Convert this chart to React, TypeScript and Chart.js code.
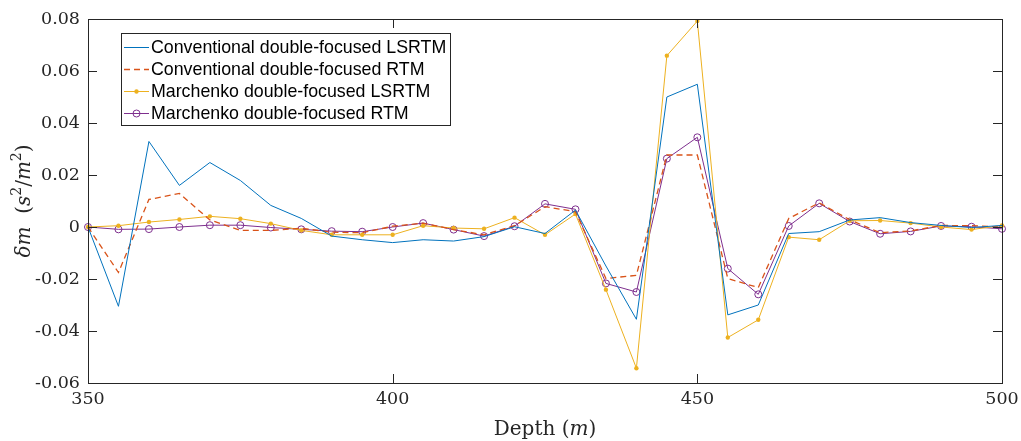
import React, { useEffect, useRef } from "react";
import { Chart, registerables } from "chart.js";

Chart.register(...registerables);

const depth = [350, 355, 360, 365, 370, 375, 380, 385, 390, 395, 400, 405, 410, 415, 420, 425, 430, 435, 440, 445, 450, 455, 460, 465, 470, 475, 480, 485, 490, 495, 500];

const convLSRTM = [0, -0.0305, 0.0329, 0.016, 0.0248, 0.0179, 0.0083, 0.0033, -0.0035, -0.0049, -0.006, -0.0049, -0.0054, -0.0037, 0.0001, -0.0025, 0.0065, -0.015, -0.0355, 0.05, 0.0549, -0.0338, -0.03, -0.0025, -0.0018, 0.0027, 0.0036, 0.0017, 0.0006, -0.0002, 0.0006];

const convRTM = [0, -0.0175, 0.0106, 0.0129, 0.0027, -0.0013, -0.0013, -0.0005, -0.002, -0.0022, 0.0003, 0.0015, -0.001, -0.003, 0.0005, 0.0078, 0.0059, -0.0198, -0.0186, 0.0277, 0.0277, -0.0198, -0.0233, 0.0033, 0.0093, 0.0028, -0.0022, -0.0015, 0.0006, 0.0005, 0];

const marLSRTM = [0, 0.0005, 0.0019, 0.0029, 0.0041, 0.0032, 0.0013, -0.0013, -0.003, -0.003, -0.003, 0.0005, -0.0004, -0.0007, 0.0036, -0.003, 0.005, -0.0241, -0.0543, 0.0659, 0.0792, -0.0425, -0.0357, -0.0039, -0.0049, 0.0024, 0.0025, 0.0015, 0, -0.001, 0.0006];

const marRTM = [0, -0.0009, -0.0008, 0, 0.0007, 0.0007, -0.0002, -0.0009, -0.0016, -0.0018, 0, 0.0015, -0.001, -0.0035, 0.0003, 0.0089, 0.0068, -0.0217, -0.025, 0.0263, 0.0345, -0.016, -0.0259, 0.0004, 0.0091, 0.0021, -0.0026, -0.0017, 0.0004, 0.0001, -0.0007];

const seriesLabels = [
  "Conventional double-focused LSRTM",
  "Conventional double-focused RTM",
  "Marchenko double-focused LSRTM",
  "Marchenko double-focused RTM",
];

const xTicks = [350, 400, 450, 500];
const yTicks = [-0.06, -0.04, -0.02, 0, 0.02, 0.04, 0.06, 0.08];

const colors = ["#0072BD", "#D95319", "#EDB120", "#7E2F8E"];

const serif = '"DejaVu Serif", serif';

const boxPlugin = {
  id: "matlabBox",
  afterDraw(chart: any) {
    const { ctx, chartArea: a, scales } = chart;
    const xs = scales.x;
    const ys = scales.y;
    ctx.save();
    ctx.strokeStyle = "#262626";
    ctx.lineWidth = 1;
    ctx.strokeRect(Math.round(a.left) + 0.5, Math.round(a.top) + 0.5, Math.round(a.right - a.left), Math.round(a.bottom - a.top));
    const tl = 9;
    ctx.beginPath();
    xTicks.forEach((v) => {
      const px = Math.round(xs.getPixelForValue(v)) + 0.5;
      ctx.moveTo(px, a.bottom);
      ctx.lineTo(px, a.bottom - tl);
      ctx.moveTo(px, a.top);
      ctx.lineTo(px, a.top + tl);
    });
    yTicks.forEach((v) => {
      const py = Math.round(ys.getPixelForValue(v)) + 0.5;
      ctx.moveTo(a.left, py);
      ctx.lineTo(a.left + tl, py);
      ctx.moveTo(a.right, py);
      ctx.lineTo(a.right - tl, py);
    });
    ctx.stroke();

    // axis titles
    ctx.fillStyle = "#262626";
    ctx.textBaseline = "alphabetic";
    const drawParts = (parts: [string, string, number][], cx: number, cy: number) => {
      let total = 0;
      parts.forEach(([t, f]) => {
        ctx.font = f;
        total += ctx.measureText(t).width;
      });
      let x = cx - total / 2;
      ctx.textAlign = "left";
      parts.forEach(([t, f, dy]) => {
        ctx.font = f;
        ctx.fillText(t, x, cy + dy);
        x += ctx.measureText(t).width;
      });
    };
    const up = "20px " + serif;
    const it = "italic 20px " + serif;
    drawParts([["Depth (", up, 0], ["m", it, 0], [")", up, 0]], (a.left + a.right) / 2, 435);

    ctx.save();
    ctx.translate(30, (a.top + a.bottom) / 2);
    ctx.rotate(-Math.PI / 2);
    const supU = "14px " + serif;
    drawParts(
      [
        ["δm", it, 0],
        ["  (", up, 0],
        ["s", it, 0],
        ["2", supU, -9],
        ["/", up, 0],
        ["m", it, 0],
        ["2", supU, -9],
        [")", up, 0],
      ],
      0,
      0
    );
    ctx.restore();

    // legend
    const lx = 121, ly = 33, lw = 329, lh = 92;
    ctx.fillStyle = "#ffffff";
    ctx.fillRect(lx, ly, lw, lh);
    ctx.strokeStyle = "#262626";
    ctx.lineWidth = 1;
    ctx.strokeRect(lx + 0.5, ly + 0.5, lw, lh);
    const rows = [47, 69, 91, 113];
    ctx.font = '17.8px "Liberation Sans", Arial, sans-serif';
    ctx.textBaseline = "middle";
    ctx.textAlign = "left";
    seriesLabels.forEach((lab, i) => {
      const y = rows[i];
      ctx.strokeStyle = colors[i];
      ctx.lineWidth = i === 1 ? 1.3 : 1;
      ctx.setLineDash(i === 1 ? [6, 4] : []);
      ctx.beginPath();
      ctx.moveTo(124, y + 0.5);
      ctx.lineTo(149, y + 0.5);
      ctx.stroke();
      ctx.setLineDash([]);
      if (i === 2) {
        ctx.fillStyle = colors[2];
        ctx.beginPath();
        ctx.arc(136.5, y + 0.5, 2.2, 0, Math.PI * 2);
        ctx.fill();
      }
      if (i === 3) {
        ctx.strokeStyle = colors[3];
        ctx.beginPath();
        ctx.arc(136.5, y + 0.5, 3.5, 0, Math.PI * 2);
        ctx.stroke();
      }
      ctx.fillStyle = "#000000";
      ctx.fillText(lab, 151, y + 1);
    });
    ctx.restore();
  },
};

export default function App() {
  const ref = useRef<HTMLCanvasElement | null>(null);
  useEffect(() => {
    if (!ref.current) return;
    const mk = (d: number[]) => depth.map((x, i) => ({ x, y: d[i] }));
    const chart = new Chart(ref.current, {
      type: "line",
      data: {
        datasets: [
          {
            label: seriesLabels[0],
            data: mk(convLSRTM),
            borderColor: colors[0],
            borderWidth: 1,
            pointRadius: 0,
            fill: false,
            clip: false,
          },
          {
            label: seriesLabels[1],
            data: mk(convRTM),
            borderColor: colors[1],
            borderWidth: 1.3,
            borderDash: [6, 4],
            pointRadius: 0,
            fill: false,
            clip: false,
          },
          {
            label: seriesLabels[2],
            data: mk(marLSRTM),
            borderColor: colors[2],
            backgroundColor: colors[2],
            borderWidth: 1,
            pointRadius: 2.2,
            pointBorderWidth: 0,
            pointStyle: "circle",
            fill: false,
            clip: false,
          },
          {
            label: seriesLabels[3],
            data: mk(marRTM),
            borderColor: colors[3],
            backgroundColor: "rgba(0,0,0,0)",
            borderWidth: 1,
            pointRadius: 3.5,
            pointBorderWidth: 1,
            pointStyle: "circle",
            fill: false,
            clip: false,
          },
        ],
      },
      options: {
        animation: false,
        responsive: false,
        maintainAspectRatio: false,
        layout: { padding: { top: 19, right: 19, left: 0, bottom: 0 } },
        plugins: { legend: { display: false }, tooltip: { enabled: false } },
        scales: {
          x: {
            type: "linear",
            min: 350,
            max: 500,
            afterFit: (s: any) => {
              s.height = 58;
              s.paddingLeft = 0;
              s.paddingRight = 0;
            },
            afterBuildTicks: (s: any) => {
              s.ticks = xTicks.map((v) => ({ value: v }));
            },
            grid: { display: false, drawTicks: false },
            border: { display: false },
            ticks: {
              padding: 6,
              color: "#262626",
              font: { family: serif, size: 17.5 },
              callback: (v: any) => String(v),
            },
          },
          y: {
            type: "linear",
            min: -0.06,
            max: 0.08,
            afterFit: (s: any) => {
              s.width = 88;
              s.paddingTop = 0;
              s.paddingBottom = 0;
            },
            afterBuildTicks: (s: any) => {
              s.ticks = yTicks.map((v) => ({ value: v }));
            },
            grid: { display: false, drawTicks: false },
            border: { display: false },
            ticks: {
              padding: 8,
              color: "#262626",
              font: { family: serif, size: 17.5 },
              callback: (v: any) => {
                const n = Number(v);
                if (Math.abs(n) < 1e-9) return "0";
                return n.toFixed(2);
              },
            },
          },
        },
      },
      plugins: [boxPlugin],
    } as any);
    return () => chart.destroy();
  }, []);
  return (
    <div style={{ position: "fixed", left: 0, top: 0, width: 1021, height: 441, background: "#fff" }}>
      <canvas ref={ref} width={1021} height={441} style={{ display: "block" }} />
    </div>
  );
}
